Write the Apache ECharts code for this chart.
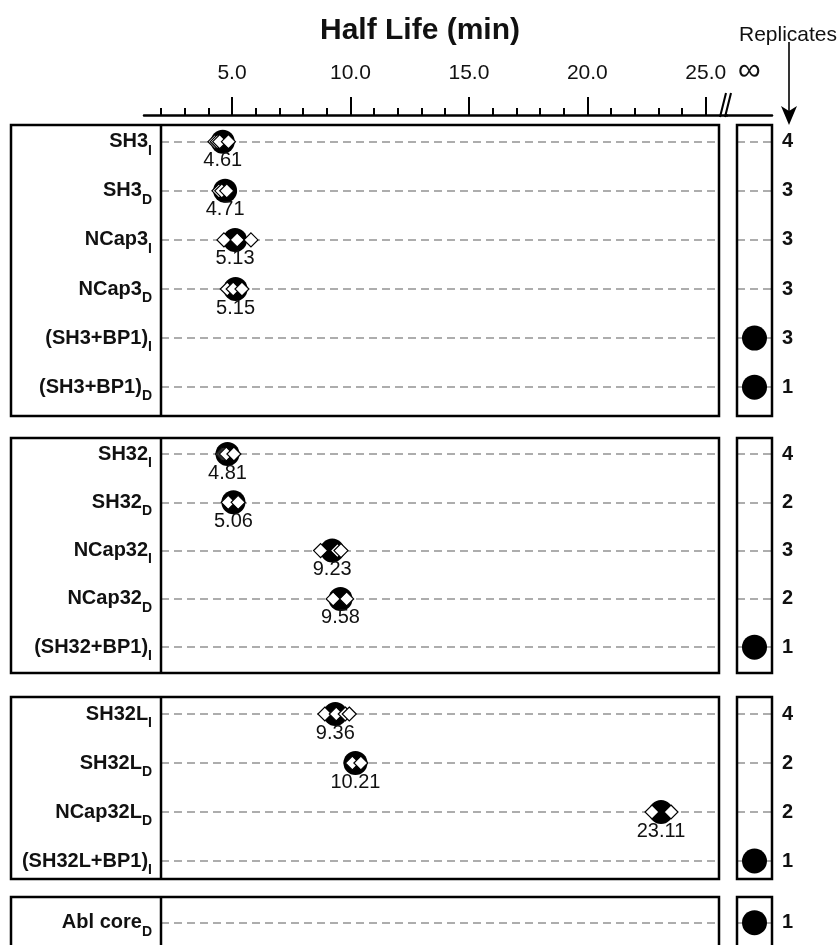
<!DOCTYPE html>
<html><head><meta charset="utf-8">
<script src="https://cdn.jsdelivr.net/npm/echarts@6/dist/echarts.min.js"></script>
<style>html,body{margin:0;padding:0;background:#fff}#c{width:840px;height:945px}</style>
</head><body><div id="c"></div>
<script>
// ---------------- data ----------------
const g1Names  = ['SH3','SH3','NCap3','NCap3','(SH3+BP1)','(SH3+BP1)'];
const g1Subs   = ['I','D','I','D','I','D'];
const g1Means  = [4.61, 4.71, 5.13, 5.15, null, null];   // null = infinite half life
const g1Reps   = [[4.28,4.38,4.48,4.85],[4.45,4.57,4.78],[4.66,5.22,5.80],[4.80,5.05,5.42],[],[]];
const g1Counts = [4,3,3,3,3,1];

const g2Names  = ['SH32','SH32','NCap32','NCap32','(SH32+BP1)'];
const g2Subs   = ['I','D','I','D','I'];
const g2Means  = [4.81, 5.06, 9.23, 9.58, null];
const g2Reps   = [[4.60,4.68,4.76,5.08],[4.84,5.26],[8.74,9.45,9.60],[9.27,9.84],[]];
const g2Counts = [4,2,3,2,1];

const g3Names  = ['SH32L','SH32L','NCap32L','(SH32L+BP1)'];
const g3Subs   = ['I','D','D','I'];
const g3Means  = [9.36, 10.21, 23.11, null];
const g3Reps   = [[8.92,9.40,9.78,9.95],[10.08,10.44],[22.73,23.53],[]];
const g3Counts = [4,2,2,1];

const g4Names  = ['Abl core'];
const g4Subs   = ['D'];
const g4Means  = [null];
const g4Reps   = [[]];
const g4Counts = [1];

const majorTicks = [5,10,15,20,25];
const minorTicks = [2,3,4,5,6,7,8,9,10,11,12,13,14,15,16,17,18,19,20,21,22,23,24,25];
const infLabel = '∞';

// ---------------- layout ----------------
const FONT = 'Liberation Sans, Arial, sans-serif';
const PX = 23.69, X5 = 232;
const valAt = px => 5 + (px - X5) / PX;
const boxL = 11, divX = 161, mainR = 719, infL = 737, infR = 772, axisL = 144, brkX = 727, axisY = 105;
const groupLayout = [
  {rowTop: 141.7, pitch: 49.1, box: [125, 416]},
  {rowTop: 454,   pitch: 48.3, box: [438, 673]},
  {rowTop: 714,   pitch: 49.0, box: [697, 879]},
  {rowTop: 922.7, pitch: 80,   box: [897, 960]}
];
const groups = [
  {names: g1Names, subs: g1Subs, means: g1Means, reps: g1Reps, counts: g1Counts},
  {names: g2Names, subs: g2Subs, means: g2Means, reps: g2Reps, counts: g2Counts},
  {names: g3Names, subs: g3Subs, means: g3Means, reps: g3Reps, counts: g3Counts},
  {names: g4Names, subs: g4Subs, means: g4Means, reps: g4Reps, counts: g4Counts}
];

const grid = [
  {left: axisL, top: axisY, width: brkX - axisL, height: 10, outerBoundsMode: 'none', containLabel: false},
  {left: brkX, top: axisY, width: infR - brkX, height: 10, outerBoundsMode: 'none', containLabel: false}
];
const xAxis = [
  {gridIndex: 0, type: 'value', position: 'top', min: valAt(axisL), max: valAt(brkX),
   axisLine: {show: true, lineStyle: {color: '#000', width: 2.5}},
   axisTick: {show: true, customValues: minorTicks, length: 7, lineStyle: {color: '#000', width: 2}},
   axisLabel: {show: false}, splitLine: {show: false}},
  {gridIndex: 0, type: 'value', position: 'top', min: valAt(axisL), max: valAt(brkX),
   axisLine: {show: false},
   axisTick: {show: true, customValues: majorTicks, length: 8, lineStyle: {color: '#000', width: 2}},
   axisLabel: {show: true, customValues: majorTicks, formatter: v => v.toFixed(1), fontSize: 21, color: '#111', fontFamily: FONT, margin: 21},
   splitLine: {show: false}},
  {gridIndex: 0, type: 'value', position: 'top', min: valAt(axisL), max: valAt(brkX),
   axisLine: {show: false},
   axisTick: {show: true, inside: true, customValues: majorTicks, length: 9, lineStyle: {color: '#000', width: 2}},
   axisLabel: {show: false}, splitLine: {show: false}},
  {gridIndex: 1, type: 'category', position: 'top', data: [infLabel],
   axisLine: {show: true, lineStyle: {color: '#000', width: 2.5}},
   axisTick: {show: false},
   axisLabel: {show: true, fontSize: 32, color: '#111', fontFamily: FONT, margin: 18}}
];
const yAxis = [
  {gridIndex: 0, type: 'value', show: false},
  {gridIndex: 1, type: 'value', show: false}
];
const series = [];
const dash = {show: true, interval: 0, lineStyle: {color: '#adadad', width: 2, type: [8, 5]}};

groups.forEach((g, gi) => {
  const L = groupLayout[gi];
  const n = g.names.length;
  const cats = g.names.map((nm, i) => nm + g.subs[i] + '#' + i);
  if (n === 1) cats.push('');
  const h = (cats.length - 1) * L.pitch;
  const gm = grid.length;
  grid.push({left: divX, top: L.rowTop, width: mainR - divX, height: h, outerBoundsMode: 'none', containLabel: false});
  grid.push({left: infL, top: L.rowTop, width: infR - infL, height: h, outerBoundsMode: 'none', containLabel: false});
  const xm = xAxis.length;
  xAxis.push({gridIndex: gm, type: 'value', min: valAt(divX), max: valAt(mainR), show: false});
  xAxis.push({gridIndex: gm + 1, type: 'category', data: [infLabel], show: false});
  const ym = yAxis.length;
  yAxis.push({gridIndex: gm, type: 'category', data: cats, inverse: true, boundaryGap: false,
    axisLine: {show: false}, axisTick: {show: false}, splitLine: dash,
    axisLabel: {interval: 0, margin: 9, fontFamily: FONT,
      formatter: (v, i) => i < n ? '{m|' + g.names[i] + '}{s|' + g.subs[i] + '}' : '',
      rich: {
        m: {fontSize: 20, fontWeight: 'bold', color: '#111', fontFamily: FONT, lineHeight: 32},
        s: {fontSize: 14, fontWeight: 'bold', color: '#111', fontFamily: FONT, lineHeight: 14, verticalAlign: 'bottom'}
      }}});
  yAxis.push({gridIndex: gm + 1, type: 'category', data: cats, inverse: true, boundaryGap: false, position: 'right',
    axisLine: {show: false}, axisTick: {show: false}, splitLine: dash,
    axisLabel: {interval: 0, margin: 10, fontSize: 20, fontWeight: 'bold', color: '#111', fontFamily: FONT,
      formatter: (v, i) => i < n ? String(g.counts[i]) : ''}});

  const meanData = [], repData = [], infData = [];
  g.means.forEach((m, i) => {
    if (m == null) infData.push([0, i]);
    else meanData.push([m, i]);
    g.reps[i].forEach(r => repData.push([r, i]));
  });
  series.push({type: 'scatter', xAxisIndex: xm, yAxisIndex: ym, data: meanData,
    symbol: 'circle', symbolSize: 24, itemStyle: {color: '#000', opacity: 1}, z: 3,
    label: {show: true, position: 'inside', offset: [0, 19], formatter: p => p.value[0].toFixed(2),
      fontSize: 20, color: '#111', fontFamily: FONT}});
  series.push({type: 'scatter', xAxisIndex: xm, yAxisIndex: ym, data: repData,
    symbol: 'diamond', symbolSize: [14, 14], z: 4,
    itemStyle: {color: '#fff', borderColor: '#000', borderWidth: 1.2, opacity: 1}});
  series.push({type: 'scatter', xAxisIndex: xm + 1, yAxisIndex: ym + 1, data: infData,
    symbol: 'circle', symbolSize: 25, itemStyle: {color: '#000', opacity: 1}, z: 3});
});

const graphic = [];
groupLayout.forEach(L => {
  const [t, b] = L.box;
  graphic.push({type: 'rect', shape: {x: boxL, y: t, width: mainR - boxL, height: b - t}, style: {fill: null, stroke: '#000', lineWidth: 2.5}, z: 10});
  graphic.push({type: 'line', shape: {x1: divX, y1: t, x2: divX, y2: b}, style: {stroke: '#000', lineWidth: 2.5}, z: 10});
  graphic.push({type: 'rect', shape: {x: infL, y: t, width: infR - infL, height: b - t}, style: {fill: null, stroke: '#000', lineWidth: 2.5}, z: 10});
});
// axis break marks
graphic.push({type: 'line', shape: {x1: 720, y1: 117, x2: 726, y2: 93}, style: {stroke: '#000', lineWidth: 2}, z: 10});
graphic.push({type: 'line', shape: {x1: 725, y1: 117, x2: 731, y2: 93}, style: {stroke: '#000', lineWidth: 2}, z: 10});
// replicates arrow
graphic.push({type: 'line', shape: {x1: 789, y1: 42, x2: 789, y2: 112}, style: {stroke: '#000', lineWidth: 1.6}, z: 10});
graphic.push({type: 'polygon', shape: {points: [[781, 106], [789, 125], [797, 106], [789, 111]]}, style: {fill: '#000'}, z: 10});

const chart = echarts.init(document.getElementById('c'), null, {renderer: 'canvas'});
chart.setOption({
  animation: false,
  backgroundColor: '#fff',
  textStyle: {fontFamily: FONT},
  title: [
    {text: 'Half Life (min)', left: 'center', top: 11, textStyle: {fontSize: 30, fontWeight: 'bold', color: '#111', fontFamily: FONT}},
    {text: 'Replicates', left: 734, top: 20, textStyle: {fontSize: 21, fontWeight: 'normal', color: '#111', fontFamily: FONT}}
  ],
  grid, xAxis, yAxis, series, graphic
});
</script></body></html>
